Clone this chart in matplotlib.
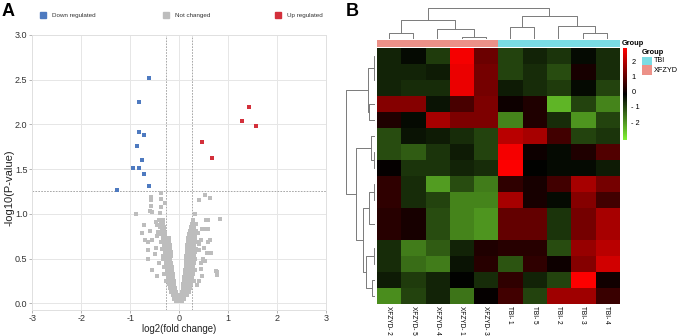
import numpy as np
import matplotlib
matplotlib.use('Agg')
import matplotlib.pyplot as plt
from matplotlib.colors import LinearSegmentedColormap, ListedColormap
from matplotlib.lines import Line2D

plt.rcParams['font.family'] = ['Liberation Sans', 'DejaVu Sans']
plt.rcParams['axes.unicode_minus'] = False

# ---------------- Panel A data (volcano) ----------------
down_x = [-0.61, -0.82, -0.83, -0.71, -0.86, -0.76, -0.95, -0.82, -0.72, -0.62, -1.27]
down_y = [2.52, 2.25, 1.92, 1.88, 1.76, 1.60, 1.51, 1.51, 1.44, 1.31, 1.27]
up_x = [1.43, 1.29, 1.57, 0.46, 0.68]
up_y = [2.20, 2.04, 1.98, 1.80, 1.62]

grey_pts = [
    (-0.06, 0.02), (-0.02, 0.02), (0.02, 0.02), (0.06, 0.02),
    (-0.10, 0.05), (-0.05, 0.05), (0.00, 0.05), (0.05, 0.05), (0.09, 0.05),
    (-0.13, 0.09), (-0.08, 0.09), (-0.03, 0.09), (0.03, 0.09), (0.08, 0.09), (0.12, 0.09), (0.17, 0.09),
    (-0.16, 0.13), (-0.11, 0.13), (-0.06, 0.13), (0.05, 0.13), (0.10, 0.13), (0.15, 0.13), (0.21, 0.13),
    (-0.18, 0.17), (-0.13, 0.17), (-0.08, 0.17), (0.07, 0.17), (0.12, 0.17), (0.17, 0.17), (0.22, 0.17),
    (-0.20, 0.21), (-0.15, 0.21), (-0.10, 0.21), (0.08, 0.21), (0.13, 0.21), (0.18, 0.21), (0.24, 0.21),
    (-0.26, 0.25), (-0.21, 0.25), (-0.16, 0.25), (-0.11, 0.25), (0.09, 0.25), (0.14, 0.25), (0.19, 0.25), (0.25, 0.25), (0.31, 0.25),
    (-0.23, 0.29), (-0.17, 0.29), (-0.12, 0.29), (0.10, 0.29), (0.15, 0.29), (0.20, 0.29), (0.27, 0.29),
    (-0.30, 0.33), (-0.24, 0.33), (-0.18, 0.33), (-0.13, 0.33), (0.11, 0.33), (0.16, 0.33), (0.21, 0.33), (0.28, 0.33),
    (-0.25, 0.37), (-0.19, 0.37), (-0.14, 0.37), (0.12, 0.37), (0.17, 0.37), (0.22, 0.37), (0.26, 0.37), (0.32, 0.37),
    (-0.31, 0.41), (-0.26, 0.41), (-0.20, 0.41), (-0.15, 0.41), (0.13, 0.41), (0.18, 0.41), (0.23, 0.41), (0.29, 0.41),
    (-0.27, 0.45), (-0.21, 0.45), (-0.16, 0.45), (0.13, 0.45), (0.19, 0.45), (0.24, 0.45), (0.30, 0.45),
    (-0.34, 0.49), (-0.30, 0.49), (-0.24, 0.49), (-0.18, 0.49), (0.14, 0.49), (0.20, 0.49), (0.26, 0.49), (0.33, 0.49),
    (-0.33, 0.53), (-0.27, 0.53), (-0.21, 0.53), (-0.16, 0.53), (0.15, 0.53), (0.20, 0.53), (0.27, 0.53), (0.31, 0.53),
    (-0.29, 0.57), (-0.23, 0.57), (-0.17, 0.57), (0.16, 0.57), (0.21, 0.57), (0.28, 0.57), (0.33, 0.57),
    (-0.35, 0.61), (-0.30, 0.61), (-0.24, 0.61), (-0.18, 0.61), (0.17, 0.61), (0.22, 0.61), (0.29, 0.61), (0.35, 0.61),
    (-0.31, 0.65), (-0.25, 0.65), (-0.19, 0.65), (0.17, 0.65), (0.23, 0.65), (0.30, 0.65),
    (-0.37, 0.69), (-0.32, 0.69), (-0.26, 0.69), (-0.20, 0.69), (0.18, 0.69), (0.24, 0.69), (0.31, 0.69), (0.36, 0.69),
    (-0.33, 0.73), (-0.27, 0.73), (-0.21, 0.73), (0.19, 0.73), (0.25, 0.73), (0.32, 0.73),
    (-0.38, 0.77), (-0.34, 0.77), (-0.28, 0.77), (0.20, 0.77), (0.26, 0.77), (0.33, 0.77),
    (-0.35, 0.81), (-0.30, 0.81), (0.22, 0.81), (0.28, 0.81), (0.34, 0.81),
    (-0.40, 0.85), (-0.36, 0.85), (-0.31, 0.85), (0.24, 0.85), (0.30, 0.85),
    (-0.37, 0.89), (-0.32, 0.89), (0.26, 0.89), (0.32, 0.89),
    (-0.39, 0.93), (-0.33, 0.93), (0.28, 0.93),
    # scattered outliers
    (-0.37, 1.23), (-0.58, 1.19), (-0.58, 1.15), (-0.38, 1.17), (-0.58, 1.09),
    (-0.55, 1.02), (-0.60, 1.03), (-0.38, 1.08), (-0.39, 1.01), (-0.29, 1.12),
    (-0.88, 1.00), (-0.72, 0.88), (-0.45, 0.88), (-0.75, 0.79), (-0.60, 0.81),
    (-0.70, 0.71), (-0.64, 0.69), (-0.55, 0.71), (-0.63, 0.60), (-0.63, 0.50),
    (-0.55, 0.37), (-0.48, 0.62), (-0.45, 0.75), (-0.44, 0.80), (-0.50, 0.55),
    (-0.42, 0.45), (-0.46, 0.30), (-0.42, 0.93), (-0.48, 0.91),
    (0.40, 1.16), (0.52, 1.21), (0.63, 1.18), (0.33, 1.00), (0.84, 0.94),
    (0.55, 0.93), (0.58, 0.93), (0.35, 0.89), (0.47, 0.83), (0.53, 0.83),
    (0.58, 0.83), (0.38, 0.79), (0.63, 0.71), (0.58, 0.68), (0.44, 0.71),
    (0.66, 0.56), (0.56, 0.56), (0.48, 0.50), (0.44, 0.45), (0.52, 0.47),
    (0.78, 0.35), (0.76, 0.36), (0.78, 0.32), (0.44, 0.38), (0.46, 0.30),
    (0.40, 0.25), (0.36, 0.20), (0.50, 0.62), (0.40, 0.60), (0.41, 0.66),
]
grey_x = [p[0] for p in grey_pts]
grey_y = [p[1] for p in grey_pts]

fc_cut = 0.263
p_cut = 1.26

legend_labels = ['Down regulated', 'Not changed', 'Up regulated']
legend_colors = ['#4E7AC0', '#BDBDBD', '#D3303B']

# ---------------- Panel B data (heatmap) ----------------
col_labels = ['XFZYD- 2', 'XFZYD- 5', 'XFZYD- 4', 'XFZYD- 1', 'XFZYD- 3',
              'TBI- 1', 'TBI- 5', 'TBI- 2', 'TBI- 3', 'TBI- 4']
col_group = [1, 1, 1, 1, 1, 0, 0, 0, 0, 0]  # 0 = TBI, 1 = XFZYD
group_names = ['TBI', 'XFZYD']
group_colors = ['#7ADCE4', '#EC9188']
heat = np.array([
    [-0.6, -0.3, -0.9, 2.7, 1.1, -1.0, -0.6, -0.8, -0.3, -0.7],
    [-0.6, -0.6, -0.5, 2.6, 1.2, -1.0, -0.7, -1.1, 0.1, -0.7],
    [-0.6, -0.7, -0.7, 2.6, 1.2, -0.5, -0.7, -0.9, -0.3, -1.0],
    [1.4, 1.4, -0.4, 0.7, 1.3, 0.0, 0.2, -2.4, -1.0, -1.8],
    [0.2, -0.3, 1.8, 1.3, 1.3, -1.8, 0.2, -0.7, -2.0, -1.0],
    [-1.1, -0.4, -0.5, -0.7, -1.0, 2.0, 1.8, 0.6, -1.0, -0.8],
    [-1.1, -1.3, -0.8, -0.5, -1.0, 2.7, 0.0, -0.3, 0.2, 0.8],
    [-0.1, -0.8, -0.8, -0.6, -0.7, 2.8, -0.2, -0.3, -0.3, -0.5],
    [0.4, -0.7, -2.1, -1.1, -1.7, 0.4, 0.1, 0.6, 1.8, 1.2],
    [0.4, -0.7, -1.0, -1.8, -1.8, 1.8, 0.1, -0.3, 1.4, 0.6],
    [0.3, 0.1, -1.1, -1.8, -2.0, 1.0, 1.0, -0.8, 1.2, 1.8],
    [0.3, 0.1, -1.1, -1.8, -2.0, 1.0, 1.0, -0.8, 1.2, 1.8],
    [-0.7, -1.7, -1.3, -0.6, 0.2, 0.3, 0.3, -1.1, 1.6, 2.0],
    [-0.7, -1.5, -1.7, -0.4, 0.3, -1.2, 0.4, 0.0, 1.4, 2.3],
    [-0.5, -0.9, -0.6, -0.2, -0.7, 0.4, -0.6, -1.0, 2.8, 0.05],
    [-1.9, -1.0, -0.6, -1.6, -0.1, 0.6, -1.0, 1.7, 1.7, 0.5],
])

# dendrograms as (height, left, right); leaves are display positions
col_tree = (30.6, (18.3, (6.0, 0, 1), (9.3, 2, (1.6, 3, 4))),
            (22.3, (11.6, 5, 6), (12.6, 7, (6.0, 8, 9))))
row_tree = (29.0, (7.7, (1.5, 0, (0.8, 1, 2)), (6.3, 3, 4)),
            (19.0, (4.5, 5, (1.2, 6, 7)),
             (12.0, (6.0, (1.0, 8, 9), (0.5, 10, 11)),
              (9.0, (1.5, 12, 13), (3.0, 14, 15)))))

W, H = 677, 336
fig = plt.figure(figsize=(W / 100, H / 100), dpi=100)


def px_box(x0, y0, x1, y1):
    return [x0 / W, 1 - y1 / H, (x1 - x0) / W, (y1 - y0) / H]


# ---------------- Panel A ----------------
ax = fig.add_axes(px_box(32.3, 35, 326, 309.5))
ax.scatter(grey_x, grey_y, marker='s', s=9, color='#BDBDBD', linewidths=0, zorder=3)
ax.scatter(down_x, down_y, marker='s', s=10, color=legend_colors[0], linewidths=0, zorder=4)
ax.scatter(up_x, up_y, marker='s', s=10, color=legend_colors[2], linewidths=0, zorder=4)
for v in (-fc_cut, fc_cut):
    ax.axvline(v, color='#9A9A9A', lw=0.6, ls=(0, (2, 1.5)), zorder=2)
ax.axhline(p_cut, color='#9A9A9A', lw=0.6, ls=(0, (2, 1.5)), zorder=2)
ax.set_xlim(-3, 3)
ax.set_ylim(-0.07, 3.0)
ax.set_xticks([-3, -2, -1, 0, 1, 2, 3])
ax.set_yticks([0, 0.5, 1.0, 1.5, 2.0, 2.5, 3.0])
ax.set_yticklabels(['0.0', '0.5', '1.0', '1.5', '2.0', '2.5', '3.0'])
ax.grid(True, color='#E6E6E6', lw=0.7, zorder=0)
ax.set_axisbelow(True)
for s in ax.spines.values():
    s.set_color('#E0E0E0')
    s.set_linewidth(0.7)
ax.tick_params(labelsize=6.5, labelcolor='#333333', color='#AAAAAA',
               length=2.5, width=0.6, pad=1)
ax.set_xlabel('log2(fold change)', fontsize=6.9, labelpad=0.5, color='#222222')
ax.set_ylabel('-log10(P-value)', fontsize=8, color='#222222')
ax.yaxis.set_label_coords(-0.06, 0.444)

# legend row above the plot
leg_x = [43, 166, 278]
for lx, lab, col in zip(leg_x, legend_labels, legend_colors):
    fig.add_artist(Line2D([lx / W], [1 - 15 / H], marker='s', ms=4.5, ls='',
                          color=col, transform=fig.transFigure))
    fig.text((lx + 9) / W, 1 - 15 / H, lab, fontsize=4.5, va='center', color='#333333')
fig.text(0.003, 0.99, 'A', fontsize=13, fontweight='bold', va='top', ha='left')

# ---------------- Panel B ----------------
fig.text(0.511, 0.99, 'B', fontsize=13, fontweight='bold', va='top', ha='left')

cmap = LinearSegmentedColormap.from_list('gbr', [(0.5, 0.95, 0.2), (0, 0, 0), (1, 0, 0)])
vmin, vmax = -3.16, 2.84

hx0, hx1, hy0, hy1 = 376.7, 619, 48, 304
hax = fig.add_axes(px_box(hx0, hy0, hx1, hy1))
im = hax.imshow(heat, cmap=cmap, vmin=vmin, vmax=vmax, aspect='auto', interpolation='nearest')
hax.set_yticks([])
hax.set_xticks(range(len(col_labels)))
hax.set_xticklabels(col_labels, rotation=-90, fontsize=4.7, va='top')
hax.tick_params(axis='x', length=0, pad=1.5)
for s in hax.spines.values():
    s.set_visible(False)

# group annotation bar
gax = fig.add_axes(px_box(hx0, 39.5, hx1, 46.7))
gax.imshow(np.array([col_group]), cmap=ListedColormap(group_colors),
           vmin=0, vmax=1, aspect='auto', interpolation='nearest')
gax.axis('off')
fig.text(621.5 / W, 1 - 43.5 / H, 'Group', fontsize=5.3, fontweight='bold', va='center')


def draw_tree(a, node, orient):
    # returns (center, height)
    if isinstance(node, int):
        return node + 0.5, 0.0
    h, left, right = node
    c1, h1 = draw_tree(a, left, orient)
    c2, h2 = draw_tree(a, right, orient)
    xs = [c1, c1, c2, c2]
    ys = [h1, h, h, h2]
    if orient == 'top':
        a.plot(xs, ys, color='#7A7A7A', lw=0.7, solid_capstyle='butt')
    else:
        a.plot(ys, xs, color='#7A7A7A', lw=0.7, solid_capstyle='butt')
    return (c1 + c2) / 2, h


tax = fig.add_axes(px_box(hx0, 7, hx1, 38.7))
draw_tree(tax, col_tree, 'top')
tax.set_xlim(0, 10)
tax.set_ylim(0, 31.2)
tax.axis('off')

rax = fig.add_axes(px_box(345.5, hy0, 375.5, hy1))
draw_tree(rax, row_tree, 'left')
rax.set_ylim(16, 0)
rax.set_xlim(29.5, 0)
rax.axis('off')

# colour key
cax = fig.add_axes(px_box(622.7, 48.3, 627.3, 140))
cb = fig.colorbar(im, cax=cax)
cb.outline.set_visible(False)
cb.set_ticks([2, 1, 0, -1, -2])
cb.set_ticklabels(['2', '1', '0', '- 1', '- 2'])
cax.tick_params(labelsize=5.3, length=0, pad=3)

# group legend
fig.text(642 / W, 1 - 52 / H, 'Group', fontsize=5.3, fontweight='bold', va='center')
lax = fig.add_axes(px_box(642, 56.5, 652, 75))
lax.imshow(np.array([[0], [1]]), cmap=ListedColormap(group_colors),
           vmin=0, vmax=1, aspect='auto', interpolation='nearest')
lax.axis('off')
fig.text(654 / W, 1 - 60.5 / H, group_names[0], fontsize=5.2, va='center')
fig.text(654 / W, 1 - 71 / H, group_names[1], fontsize=5.2, va='center')

fig.savefig('out.png', dpi=100)
